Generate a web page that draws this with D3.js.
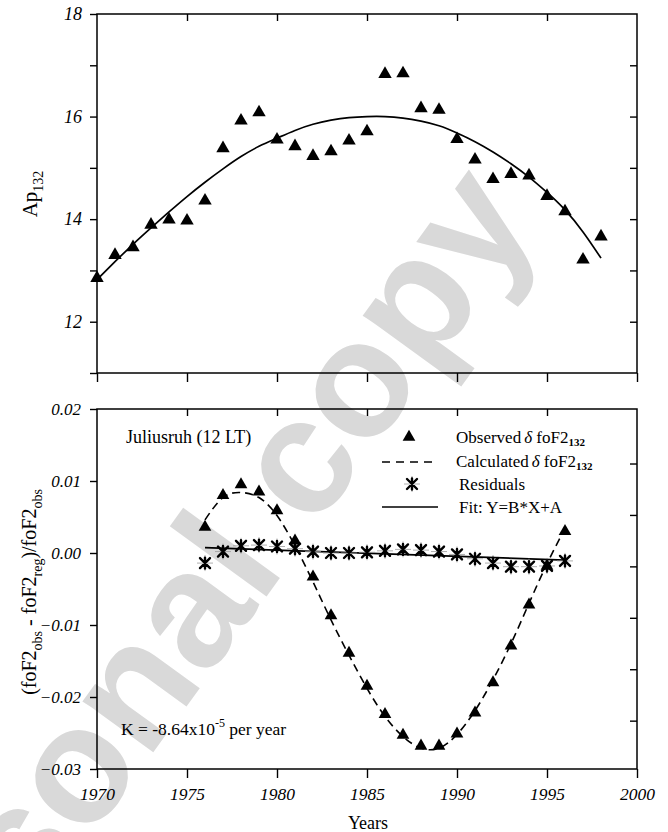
<!DOCTYPE html>
<html><head><meta charset="utf-8">
<script src="https://cdn.jsdelivr.net/npm/d3@7"></script>
<style>body{margin:0;background:#fff} svg{display:block}</style>
</head><body>
<svg id="c" width="668" height="832"></svg>
<script>
// ---------- data ----------
const apYears = [1970,1971,1972,1973,1974,1975,1976,1977,1978,1979,1980,1981,1982,1983,1984,1985,1986,1987,1988,1989,1990,1991,1992,1993,1994,1995,1996,1997,1998];
const apObserved = [12.85,13.30,13.45,13.89,13.99,13.97,14.36,15.38,15.92,16.08,15.55,15.42,15.23,15.32,15.53,15.71,16.83,16.84,16.16,16.13,15.56,15.16,14.78,14.88,14.85,14.45,14.15,13.21,13.66];
const apFit = [12.82,13.17,13.51,13.83,14.14,14.44,14.72,14.98,15.22,15.42,15.58,15.73,15.85,15.93,15.98,16.00,16.00,15.97,15.91,15.82,15.68,15.51,15.31,15.08,14.82,14.52,14.18,13.75,13.24];

const dYears = [1976,1977,1978,1979,1980,1981,1982,1983,1984,1985,1986,1987,1988,1989,1990,1991,1992,1993,1994,1995,1996];
const dObserved = [0.0036,0.0080,0.0095,0.0085,0.0059,0.0017,-0.0033,-0.0087,-0.0139,-0.0185,-0.0224,-0.0253,-0.0268,-0.0268,-0.0251,-0.0222,-0.0180,-0.0129,-0.0072,-0.0018,0.0030];
const dCalculated = [0.0046,0.0077,0.0084,0.0077,0.0052,0.0010,-0.0040,-0.0093,-0.0142,-0.0188,-0.0227,-0.0255,-0.0271,-0.0271,-0.0252,-0.0219,-0.0176,-0.0126,-0.0070,-0.0015,0.0034];
const dResiduals = [-0.0014,0.0002,0.0010,0.0011,0.0009,0.0006,0.0002,0.0000,0.0000,0.0001,0.0003,0.0005,0.0004,0.0002,-0.0002,-0.0008,-0.0014,-0.0019,-0.0019,-0.0018,-0.0011];
const fitYears = [1976,1996];
const fitValues = [0.00074,-0.00099];

const xTickValues = [1970,1975,1980,1985,1990,1995,2000];
const xInnerTicks = [1975,1980,1985,1990,1995];
const apTickValues = [11,12,13,14,15,16,17,18];
const apLabelled = [12,14,16,18];
const dTickValues = [-0.03,-0.02,-0.01,0.00,0.01,0.02];
const rightTicks2 = [1,2,3,4,5,6];

// ---------- setup ----------
const svg = d3.select("#c");
const SERIF = "'Liberation Serif','Times New Roman',serif";
const L = 97, R = 637;
const x = d3.scaleLinear([1970,2000],[L,R]);
const yTop = d3.scaleLinear([11,18],[373,14]);
const yBot = d3.scaleLinear([-0.03,0.02],[769,409]);
const yRight2 = d3.scaleLinear([0.06,7.06],[769,409]);

// watermark (behind everything)
svg.append("text")
  .attr("transform","translate(540,220) rotate(-54)")
  .attr("text-anchor","end")
  .attr("font-family","'Liberation Sans',Arial,sans-serif")
  .attr("font-weight","bold")
  .attr("font-size",165)
  .attr("fill","#d9d9d9")
  .text("Personal copy");

function styleAxis(g, size){
  g.select(".domain").remove();
  g.selectAll(".tick line").attr("stroke","#000").attr("stroke-width",1.4);
  g.selectAll(".tick text").attr("font-family",SERIF).attr("font-style","italic")
    .attr("font-size",size).attr("fill","#000");
}

// ---------- top panel ----------
const topG = svg.append("g");
topG.append("g").attr("transform",`translate(${L},0)`)
  .call(d3.axisLeft(yTop).tickValues(apTickValues).tickSize(7).tickPadding(8)
    .tickFormat(d => apLabelled.includes(d) ? d : ""))
  .call(g=>styleAxis(g,18));
topG.append("g").attr("transform",`translate(${R},0)`)
  .call(d3.axisRight(yTop).tickValues(apTickValues.slice(1,-1)).tickSize(-7).tickFormat(""))
  .call(g=>styleAxis(g,17));
topG.append("g").attr("transform",`translate(0,14)`)
  .call(d3.axisTop(x).tickValues(xInnerTicks).tickSize(-7).tickFormat(""))
  .call(g=>styleAxis(g,17));
topG.append("g").attr("transform",`translate(0,373)`)
  .call(d3.axisBottom(x).tickValues(xTickValues).tickSize(9).tickFormat(""))
  .call(g=>styleAxis(g,17));
topG.append("rect").attr("x",L).attr("y",14).attr("width",R-L).attr("height",373-14)
  .attr("fill","none").attr("stroke","#000").attr("stroke-width",1.5);

topG.append("path")
  .attr("d", d3.line().x((d,i)=>x(apYears[i])).y(d=>yTop(d)).curve(d3.curveNatural)(apFit))
  .attr("fill","none").attr("stroke","#000").attr("stroke-width",1.7);
topG.selectAll(".tri").data(apObserved).join("path")
  .attr("transform",(d,i)=>`translate(${x(apYears[i])},${yTop(d)})`)
  .attr("d", d3.symbol(d3.symbolTriangle, 78)())
  .attr("fill","#000");

const apLab = svg.append("text")
  .attr("transform","translate(37,194) rotate(-90)")
  .attr("text-anchor","middle").attr("font-family",SERIF).attr("font-size",21).attr("fill","#000");
apLab.append("tspan").text("Ap");
apLab.append("tspan").attr("font-size",14).attr("dy",6).text("132");

// ---------- bottom panel ----------
const botG = svg.append("g");
botG.append("g").attr("transform",`translate(${L},0)`)
  .call(d3.axisLeft(yBot).tickValues(dTickValues).tickSize(7).tickPadding(9)
    .tickFormat(d3.format(".2f")))
  .call(g=>styleAxis(g,17));
botG.append("g").attr("transform",`translate(${R},0)`)
  .call(d3.axisRight(yRight2).tickValues(rightTicks2).tickSize(-7).tickFormat(""))
  .call(g=>styleAxis(g,16));
botG.append("g").attr("transform",`translate(0,409)`)
  .call(d3.axisTop(x).tickValues(xInnerTicks).tickSize(-7).tickFormat(""))
  .call(g=>styleAxis(g,16));
botG.append("g").attr("transform",`translate(0,769)`)
  .call(d3.axisBottom(x).tickValues(xTickValues).tickSize(9).tickPadding(10).tickFormat(d3.format("d")))
  .call(g=>styleAxis(g,17.5));
botG.append("rect").attr("x",L).attr("y",409).attr("width",R-L).attr("height",769-409)
  .attr("fill","none").attr("stroke","#000").attr("stroke-width",1.5);

// calculated dashed curve
botG.append("path")
  .attr("d", d3.line().x((d,i)=>x(dYears[i])).y(d=>yBot(d)).curve(d3.curveNatural)(dCalculated))
  .attr("fill","none").attr("stroke","#000").attr("stroke-width",1.6).attr("stroke-dasharray","8,5");
// fit line
botG.append("path")
  .attr("d", d3.line().x((d,i)=>x(fitYears[i])).y(d=>yBot(d))(fitValues))
  .attr("fill","none").attr("stroke","#000").attr("stroke-width",1.7);

function star(g){
  g.append("path").attr("d","M-8,0H8M0,-8V8").attr("stroke","#999").attr("stroke-width",0.8);
  g.append("path").attr("d","M-5,-5L5,5M-5,5L5,-5M0,-5.5V5.5")
    .attr("stroke","#000").attr("stroke-width",2.4).attr("stroke-linecap","round");
}
botG.selectAll(".res").data(dResiduals).join("g")
  .attr("transform",(d,i)=>`translate(${x(dYears[i])},${yBot(d)})`)
  .each(function(){ star(d3.select(this)); });
botG.selectAll(".tri").data(dObserved).join("path")
  .attr("transform",(d,i)=>`translate(${x(dYears[i])},${yBot(d)})`)
  .attr("d", d3.symbol(d3.symbolTriangle, 70)())
  .attr("fill","#000");

// y label bottom
const dLab = svg.append("text")
  .attr("transform","translate(36,592) rotate(-90)")
  .attr("text-anchor","middle").attr("font-family",SERIF).attr("font-size",20).attr("fill","#000");
dLab.append("tspan").text("(foF2");
dLab.append("tspan").attr("font-size",14).attr("dy",6).text("obs");
dLab.append("tspan").attr("dy",-6).text(" - foF2");
dLab.append("tspan").attr("font-size",14).attr("dy",6).text("reg");
dLab.append("tspan").attr("dy",-6).text(")/foF2");
dLab.append("tspan").attr("font-size",14).attr("dy",6).text("obs");

// annotations
svg.append("text").attr("x",126).attr("y",443).attr("font-family",SERIF).attr("font-size",18)
  .attr("fill","#000").text("Juliusruh (12 LT)");
const kt = svg.append("text").attr("x",121).attr("y",735).attr("font-family",SERIF).attr("font-size",17.5).attr("fill","#000");
kt.append("tspan").text("K = -8.64x10");
kt.append("tspan").attr("font-size",12).attr("dy",-8).text("-5");
kt.append("tspan").attr("dy",8).text(" per year");

// legend
const lg = svg.append("g").attr("font-family",SERIF).attr("font-size",17).attr("fill","#000");
lg.append("path").attr("transform","translate(409,437)").attr("d", d3.symbol(d3.symbolTriangle,70)()).attr("fill","#000");
function deltaLabel(xp, yp, word){
  const t = lg.append("text").attr("x",xp).attr("y",yp);
  t.append("tspan").text(word);
  t.append("tspan").attr("font-style","italic").attr("dx",3).text("δ");
  t.append("tspan").text(" foF2");
  t.append("tspan").attr("font-size",11).attr("font-weight","bold").attr("dy",3).text("132");
}
deltaLabel(456,443,"Observed");
lg.append("line").attr("x1",382).attr("x2",434).attr("y1",462).attr("y2",462)
  .attr("stroke","#000").attr("stroke-width",1.6).attr("stroke-dasharray","8,6");
deltaLabel(456,467,"Calculated");
star(lg.append("g").attr("transform","translate(412,484)"));
lg.append("text").attr("x",459).attr("y",490).text("Residuals");
lg.append("line").attr("x1",382).attr("x2",438).attr("y1",507).attr("y2",507)
  .attr("stroke","#000").attr("stroke-width",1.7);
lg.append("text").attr("x",459).attr("y",513).text("Fit: Y=B*X+A");

svg.append("text").attr("x",368).attr("y",829).attr("text-anchor","middle")
  .attr("font-family",SERIF).attr("font-size",18).attr("fill","#000").text("Years");
</script>
</body></html>
